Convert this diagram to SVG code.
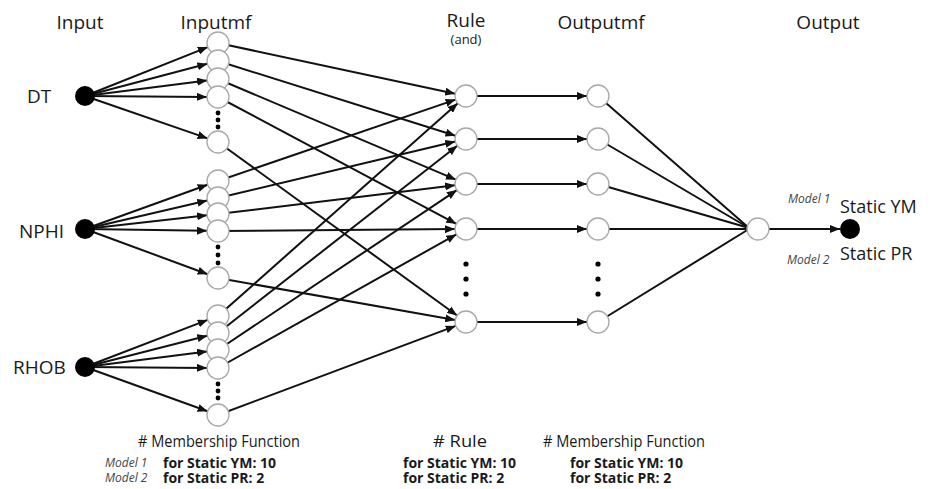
<svg xmlns="http://www.w3.org/2000/svg" width="933" height="489" viewBox="0 0 933 489">
<style>
.t{font-family:"Open Sans","Noto Sans","Liberation Sans",sans-serif;fill:#1a1a1a}
.h{font-size:19px}
.lbl{font-size:19px}
.sm{font-size:13px}
.mdl{font-family:"Open Sans","Noto Sans","Liberation Sans",sans-serif;font-style:italic;font-size:12px;fill:#444}
.b{font-weight:bold;font-size:14px}
.bh{font-size:16px}
.c{fill:#fff;stroke:#a8a8a8;stroke-width:1.3}
.blk{fill:#000}
.ln{stroke:#111;stroke-width:2;fill:none}
.a{marker-end:url(#arr)}
.dot{fill:#000}
</style>
<defs>
<marker id="arr" markerUnits="userSpaceOnUse" markerWidth="10" markerHeight="8" refX="10" refY="4" orient="auto">
<path d="M0,0 L10,4 L0,8 z" fill="#111"/>
</marker>
</defs>

<g id="headers">
<text class="t h" x="80" y="29" text-anchor="middle">Input</text>
<text class="t h" x="216" y="29" text-anchor="middle">Inputmf</text>
<text class="t h" x="466" y="27" text-anchor="middle">Rule</text>
<text class="t sm" x="466" y="44" text-anchor="middle">(and)</text>
<text class="t h" x="601" y="29" text-anchor="middle">Outputmf</text>
<text class="t h" x="828" y="29" text-anchor="middle">Output</text>
</g>

<g id="connectors">
<line class="ln a" x1="85" y1="96" x2="207.8" y2="47.1"/>
<line class="ln a" x1="85" y1="96" x2="207.4" y2="63.8"/>
<line class="ln a" x1="85" y1="96" x2="207.1" y2="80.4"/>
<line class="ln a" x1="85" y1="96" x2="207" y2="96.9"/>
<line class="ln a" x1="85" y1="96" x2="207.6" y2="138.4"/>
<line class="ln a" x1="85" y1="229" x2="207.6" y2="184.7"/>
<line class="ln a" x1="85" y1="229" x2="207.3" y2="200.5"/>
<line class="ln a" x1="85" y1="229" x2="207.1" y2="215.2"/>
<line class="ln a" x1="85" y1="229" x2="207" y2="230.8"/>
<line class="ln a" x1="85" y1="229" x2="207.7" y2="274.2"/>
<line class="ln a" x1="85" y1="367" x2="207.7" y2="319.9"/>
<line class="ln a" x1="85" y1="367" x2="207.3" y2="335.7"/>
<line class="ln a" x1="85" y1="367" x2="207.1" y2="351.4"/>
<line class="ln a" x1="85" y1="367" x2="207" y2="367.9"/>
<line class="ln a" x1="85" y1="367" x2="207.6" y2="411.3"/>
<line class="ln a" x1="218" y1="43" x2="455.2" y2="93.7"/>
<line class="ln a" x1="218" y1="181" x2="455.6" y2="99.6"/>
<line class="ln a" x1="218" y1="316" x2="457.8" y2="103.3"/>
<line class="ln a" x1="218" y1="61" x2="455.5" y2="135.7"/>
<line class="ln a" x1="218" y1="198" x2="455.3" y2="141.5"/>
<line class="ln a" x1="218" y1="333" x2="457.3" y2="145.8"/>
<line class="ln a" x1="218" y1="79" x2="455.9" y2="179.7"/>
<line class="ln a" x1="218" y1="214" x2="455.1" y2="185.3"/>
<line class="ln a" x1="218" y1="350" x2="456.9" y2="190.1"/>
<line class="ln a" x1="218" y1="97" x2="456.3" y2="223.8"/>
<line class="ln a" x1="218" y1="231" x2="455" y2="229.1"/>
<line class="ln a" x1="218" y1="368" x2="456.4" y2="234.4"/>
<line class="ln a" x1="218" y1="142" x2="457.1" y2="315.5"/>
<line class="ln a" x1="218" y1="278" x2="455.2" y2="320.1"/>
<line class="ln a" x1="218" y1="415" x2="455.7" y2="325.9"/>
<line class="ln a" x1="477" y1="96" x2="587" y2="96"/>
<line class="ln a" x1="477" y1="139" x2="587" y2="139"/>
<line class="ln a" x1="477" y1="184" x2="587" y2="184"/>
<line class="ln a" x1="477" y1="229" x2="587" y2="229"/>
<line class="ln a" x1="477" y1="322" x2="587" y2="322"/>
<line class="ln" x1="598" y1="96" x2="749" y2="228"/>
<line class="ln" x1="598" y1="139" x2="749" y2="228"/>
<line class="ln" x1="598" y1="184" x2="749" y2="228"/>
<line class="ln" x1="598" y1="229" x2="749" y2="229"/>
<line class="ln" x1="598" y1="322" x2="749" y2="229"/>
<line class="ln a" x1="769" y1="229" x2="840" y2="229"/>
</g>

<g id="input-DT"><circle class="blk" cx="85" cy="96" r="10"/><text class="t lbl" x="27" y="103">DT</text></g>
<g id="input-NPHI"><circle class="blk" cx="85" cy="229" r="10"/><text class="t lbl" x="19" y="238">NPHI</text></g>
<g id="input-RHOB"><circle class="blk" cx="85" cy="367" r="10"/><text class="t lbl" x="13" y="374">RHOB</text></g>

<g id="inputmf-DT">
<circle class="c" cx="218" cy="43" r="11"/>
<circle class="c" cx="218" cy="61" r="11"/>
<circle class="c" cx="218" cy="79" r="11"/>
<circle class="c" cx="218" cy="97" r="11"/>
<circle class="dot" cx="218" cy="113" r="2.4"/>
<circle class="dot" cx="218" cy="120" r="2.4"/>
<circle class="dot" cx="218" cy="127" r="2.4"/>
<circle class="c" cx="218" cy="142" r="11"/>
</g>
<g id="inputmf-NPHI">
<circle class="c" cx="218" cy="181" r="11"/>
<circle class="c" cx="218" cy="198" r="11"/>
<circle class="c" cx="218" cy="214" r="11"/>
<circle class="c" cx="218" cy="231" r="11"/>
<circle class="dot" cx="218" cy="247" r="2.4"/>
<circle class="dot" cx="218" cy="255" r="2.4"/>
<circle class="dot" cx="218" cy="263" r="2.4"/>
<circle class="c" cx="218" cy="278" r="11"/>
</g>
<g id="inputmf-RHOB">
<circle class="c" cx="218" cy="316" r="11"/>
<circle class="c" cx="218" cy="333" r="11"/>
<circle class="c" cx="218" cy="350" r="11"/>
<circle class="c" cx="218" cy="368" r="11"/>
<circle class="dot" cx="218" cy="384" r="2.4"/>
<circle class="dot" cx="218" cy="391" r="2.4"/>
<circle class="dot" cx="218" cy="398" r="2.4"/>
<circle class="c" cx="218" cy="415" r="11"/>
</g>

<g id="rule">
<circle class="c" cx="466" cy="96" r="11"/>
<circle class="c" cx="466" cy="139" r="11"/>
<circle class="c" cx="466" cy="184" r="11"/>
<circle class="c" cx="466" cy="229" r="11"/>
<circle class="dot" cx="466" cy="264" r="2.6"/>
<circle class="dot" cx="466" cy="279" r="2.6"/>
<circle class="dot" cx="466" cy="294" r="2.6"/>
<circle class="c" cx="466" cy="322" r="11"/>
</g>
<g id="outputmf">
<circle class="c" cx="598" cy="96" r="11"/>
<circle class="c" cx="598" cy="139" r="11"/>
<circle class="c" cx="598" cy="184" r="11"/>
<circle class="c" cx="598" cy="229" r="11"/>
<circle class="dot" cx="598" cy="264" r="2.6"/>
<circle class="dot" cx="598" cy="279" r="2.6"/>
<circle class="dot" cx="598" cy="294" r="2.6"/>
<circle class="c" cx="598" cy="322" r="11"/>
</g>
<g id="sum"><circle class="c" cx="758" cy="229" r="11"/></g>
<g id="output">
<circle class="blk" cx="850" cy="229" r="10"/>
<text class="mdl" x="788" y="203">Model 1</text>
<text class="t" font-size="18" x="840" y="213">Static YM</text>
<text class="mdl" x="787" y="264">Model 2</text>
<text class="t" font-size="18" x="840" y="260">Static PR</text>
</g>

<g id="notes">
<text class="t bh" x="138" y="447" textLength="162" lengthAdjust="spacingAndGlyphs"># Membership Function</text>
<text class="mdl" x="105" y="467">Model 1</text>
<text class="t b" x="163" y="468">for Static YM: 10</text>
<text class="mdl" x="105" y="482">Model 2</text>
<text class="t b" x="163" y="483">for Static PR: 2</text>
<text class="t bh" x="433" y="447" textLength="54" lengthAdjust="spacingAndGlyphs"># Rule</text>
<text class="t b" x="403" y="468">for Static YM: 10</text>
<text class="t b" x="403" y="483">for Static PR: 2</text>
<text class="t bh" x="543" y="447" textLength="162" lengthAdjust="spacingAndGlyphs"># Membership Function</text>
<text class="t b" x="570" y="468">for Static YM: 10</text>
<text class="t b" x="570" y="483">for Static PR: 2</text>
</g>
</svg>
